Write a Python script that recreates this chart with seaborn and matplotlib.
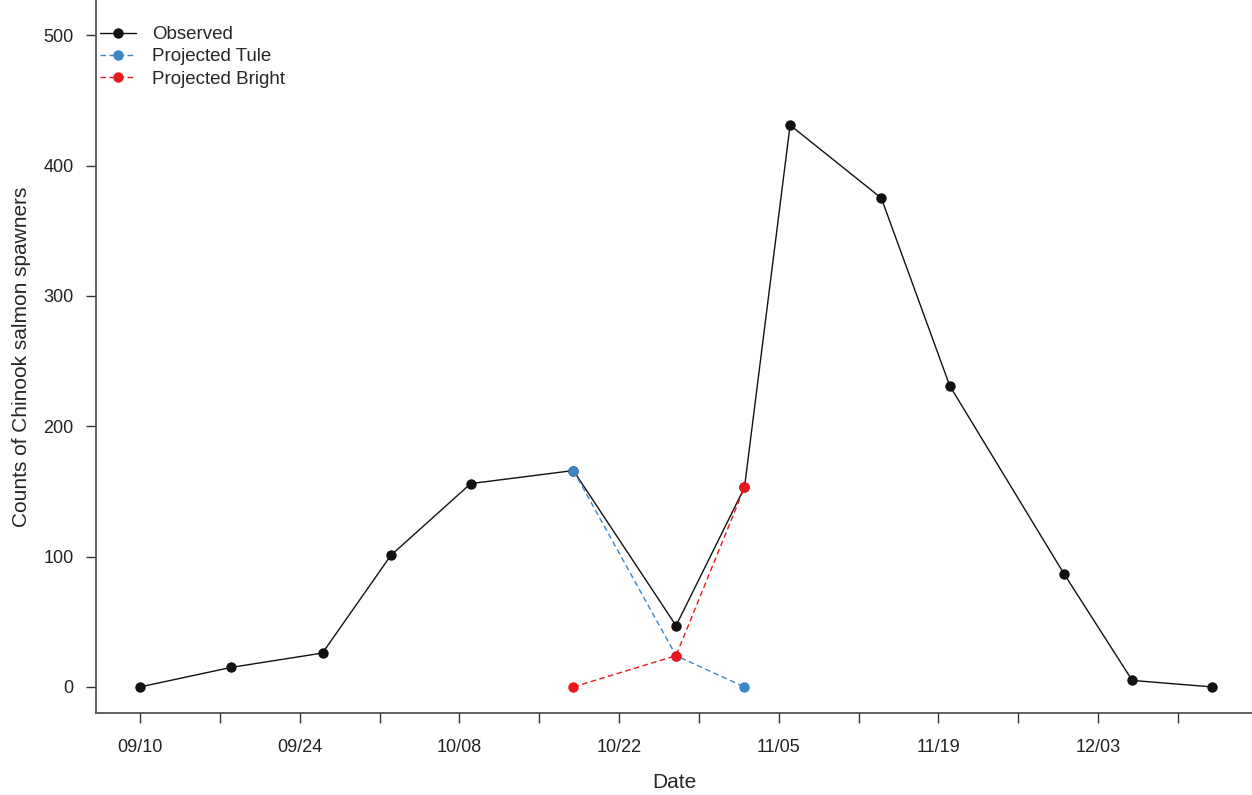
import matplotlib
matplotlib.use("Agg")
import matplotlib.pyplot as plt
import matplotlib.dates as mdates
import seaborn as sns
import pandas as pd
import numpy as np

sns.set_style("ticks")
plt.rcParams['font.family'] = ['Liberation Sans', 'DejaVu Sans']

# Data
obs_dates = ["09/10", "09/18", "09/26", "10/02", "10/09", "10/18", "10/27",
             "11/02", "11/06", "11/14", "11/20", "11/30", "12/06", "12/13"]
obs_counts = [0, 15, 26, 101, 156, 166, 47, 153, 431, 375, 231, 87, 5, 0]
tule_dates = ["10/18", "10/27", "11/02"]
tule_counts = [166, 24, 0]
bright_dates = ["10/18", "10/27", "11/02"]
bright_counts = [0, 24, 153]

YEAR = 2019
def to_dt(lst):
    return pd.to_datetime([f"{YEAR}/{d}" for d in lst], format="%Y/%m/%d")

df = pd.concat([
    pd.DataFrame({"Date": to_dt(obs_dates), "Count": obs_counts, "Series": "Observed"}),
    pd.DataFrame({"Date": to_dt(tule_dates), "Count": tule_counts, "Series": "Projected Tule"}),
    pd.DataFrame({"Date": to_dt(bright_dates), "Count": bright_counts, "Series": "Projected Bright"}),
], ignore_index=True)

palette = {"Observed": "#111111", "Projected Tule": "#3a86c6", "Projected Bright": "#e8191c"}
dashes = {"Observed": "", "Projected Tule": (4, 2.5), "Projected Bright": (4, 2.5)}

fig = plt.figure(figsize=(12.52, 7.95), dpi=100)
ax = fig.add_axes([96/1252, 82/795, 1 - 96/1252, 1 - 82/795])

sns.lineplot(data=df, x="Date", y="Count", hue="Series", style="Series",
             palette=palette, dashes=dashes,
             markers={"Observed": "o", "Projected Tule": "o", "Projected Bright": "o"},
             markersize=7.5, markeredgewidth=0, linewidth=1.0, sort=False, ax=ax,
             hue_order=["Observed", "Projected Tule", "Projected Bright"],
             style_order=["Observed", "Projected Tule", "Projected Bright"])

start = pd.Timestamp(f"{YEAR}-09-10")
ax.set_xlim(start - pd.Timedelta(days=3.86), start + pd.Timedelta(days=97.5))
ax.set_ylim(-20, 527)

major = [start + pd.Timedelta(days=14 * i) for i in range(7)]
minor = [start + pd.Timedelta(days=7 + 14 * i) for i in range(7)]
ax.set_xticks(major)
ax.set_xticks(minor, minor=True)
ax.set_xticklabels([d.strftime("%m/%d") for d in major])
ax.set_yticks([0, 100, 200, 300, 400, 500])

for s in ["top", "right"]:
    ax.spines[s].set_visible(False)
for s in ["left", "bottom"]:
    ax.spines[s].set_color("#555555")
    ax.spines[s].set_linewidth(1.3)

ax.tick_params(axis="both", which="both", direction="out", length=7, width=1.0,
               color="#333333", labelsize=13, labelcolor="#222222")
ax.tick_params(axis="x", pad=12)
ax.tick_params(axis="y", pad=9)

ax.set_xlabel("Date", fontsize=15, labelpad=12)
ax.set_ylabel("Counts of Chinook salmon spawners", fontsize=15, labelpad=9)

leg = ax.legend(loc="upper left", frameon=False, fontsize=13.5, title=None,
                handlelength=1.9, handletextpad=0.9, labelspacing=0.27,
                borderpad=0, borderaxespad=0,
                bbox_to_anchor=(4/1156, 1 - 26/713))

fig.savefig("out.png", dpi=100)
